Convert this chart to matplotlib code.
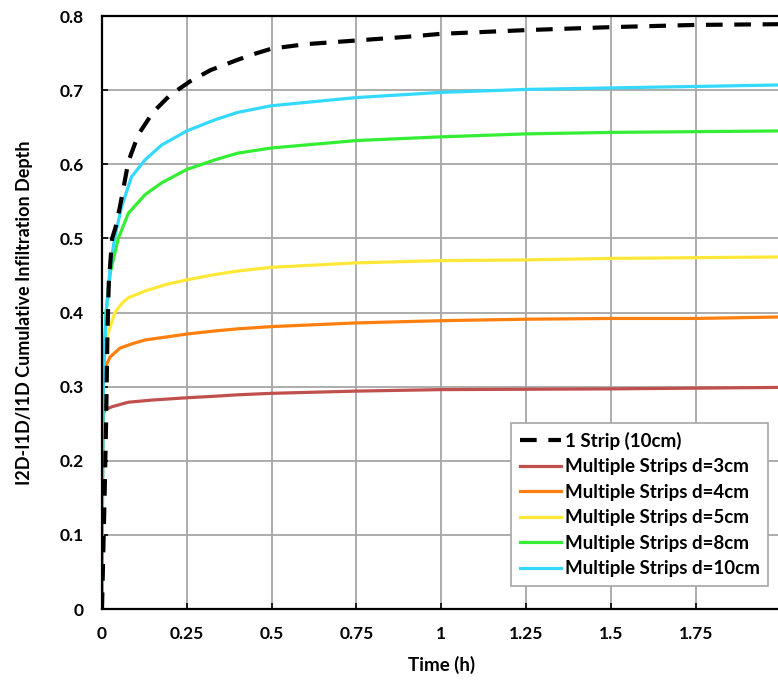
import matplotlib.pyplot as plt

plt.rcParams['font.family'] = ['Lato', 'DejaVu Sans']
plt.rcParams['font.weight'] = 'bold'

# time (h) and relative extra infiltration depth
t_one = [0, 0.004, 0.008, 0.012, 0.016, 0.02, 0.03, 0.04, 0.053, 0.078, 0.107, 0.15, 0.2, 0.26, 0.32, 0.4, 0.45, 0.5, 0.6, 0.75, 0.9, 1.0, 1.25, 1.5, 1.75, 2.0]
y_one = [0, 0.08, 0.16, 0.25, 0.37, 0.44, 0.5, 0.515, 0.543, 0.604, 0.64, 0.67, 0.693, 0.712, 0.727, 0.741, 0.749, 0.756, 0.762, 0.767, 0.772, 0.776, 0.781, 0.785, 0.788, 0.789]

t_d3 = [0, 0.002, 0.005, 0.01, 0.03, 0.078, 0.15, 0.25, 0.33, 0.4, 0.5, 0.75, 1.0, 1.5, 2.0]
y_d3 = [0, 0.24, 0.265, 0.269, 0.273, 0.279, 0.282, 0.285, 0.287, 0.289, 0.291, 0.294, 0.296, 0.297, 0.299]

t_d4 = [0, 0.002, 0.005, 0.01, 0.024, 0.053, 0.09, 0.127, 0.19, 0.25, 0.33, 0.4, 0.5, 0.75, 1.0, 1.25, 1.5, 1.75, 2.0]
y_d4 = [0, 0.28, 0.318, 0.327, 0.34, 0.352, 0.358, 0.363, 0.367, 0.371, 0.375, 0.378, 0.381, 0.386, 0.389, 0.391, 0.392, 0.392, 0.394]

t_d5 = [0, 0.002, 0.005, 0.01, 0.018, 0.038, 0.06, 0.078, 0.127, 0.19, 0.25, 0.33, 0.4, 0.5, 0.75, 1.0, 1.25, 1.5, 1.75, 2.0]
y_d5 = [0, 0.26, 0.33, 0.355, 0.372, 0.4, 0.413, 0.42, 0.429, 0.438, 0.444, 0.451, 0.456, 0.461, 0.467, 0.47, 0.471, 0.473, 0.474, 0.475]

t_d8 = [0, 0.002, 0.004, 0.012, 0.025, 0.048, 0.078, 0.127, 0.176, 0.25, 0.333, 0.4, 0.5, 0.75, 1.0, 1.25, 1.5, 1.75, 2.0]
y_d8 = [0, 0.2, 0.3, 0.4, 0.455, 0.5, 0.534, 0.559, 0.575, 0.593, 0.606, 0.615, 0.622, 0.632, 0.637, 0.641, 0.643, 0.644, 0.645]

t_d10 = [0, 0.002, 0.004, 0.012, 0.024, 0.037, 0.058, 0.087, 0.127, 0.176, 0.25, 0.333, 0.4, 0.5, 0.75, 1.0, 1.25, 1.5, 1.75, 2.0]
y_d10 = [0, 0.2, 0.3, 0.4, 0.46, 0.5, 0.543, 0.583, 0.606, 0.626, 0.645, 0.66, 0.67, 0.679, 0.69, 0.697, 0.701, 0.703, 0.705, 0.707]

labels = ['1 Strip (10cm)', 'Multiple Strips d=3cm', 'Multiple Strips d=4cm',
          'Multiple Strips d=5cm', 'Multiple Strips d=8cm', 'Multiple Strips d=10cm']
colors = ['black', '#C0504D', '#FF7F0E', '#FFE838', '#33EE33', '#33D9FF']

fig = plt.figure(figsize=(7.78, 6.82), dpi=100)
ax = fig.add_axes([0.1311, 0.107, 0.872, 0.8695])

series = [(t_d3, y_d3), (t_d4, y_d4), (t_d5, y_d5), (t_d8, y_d8), (t_d10, y_d10)]
ax.plot(t_one, y_one, color=colors[0], lw=3, dashes=(4, 2.8), label=labels[0], zorder=5)
for (t, y), c, lab in zip(series, colors[1:], labels[1:]):
    ax.plot(t, y, color=c, lw=2.3, label=lab)

ax.set_xlim(0, 2)
ax.set_ylim(0, 0.8)
ax.set_xticks([0, 0.25, 0.5, 0.75, 1, 1.25, 1.5, 1.75])
ax.set_xticklabels(['0', '0.25', '0.5', '0.75', '1', '1.25', '1.5', '1.75'])
ax.set_yticks([0, 0.1, 0.2, 0.3, 0.4, 0.5, 0.6, 0.7, 0.8])
ax.set_yticklabels(['0', '0.1', '0.2', '0.3', '0.4', '0.5', '0.6', '0.7', '0.8'])
ax.grid(True, color='#A6A6A6', lw=1.3)
ax.set_axisbelow(True)
ax.tick_params(direction='in', length=4, width=1.2, labelsize=12.5)
ax.tick_params(axis='y', pad=13)
ax.tick_params(axis='x', pad=12)
for s in ['left', 'bottom', 'top']:
    ax.spines[s].set_linewidth(1.6)
ax.spines['right'].set_visible(False)

ax.set_xlabel('Time (h)', fontsize=13.5, fontweight='bold', labelpad=10)
ax.set_ylabel('I2D-I1D/I1D Cumulative Infiltration Depth', fontsize=13, fontweight='bold', labelpad=19)

leg = ax.legend(loc='lower right', bbox_to_anchor=(0.99, 0.03), fontsize=13.5, frameon=True,
                fancybox=False, edgecolor='#A6A6A6', handlelength=2.2, handletextpad=0.2,
                borderpad=0.45, labelspacing=0.45, borderaxespad=0.3, framealpha=1)
leg.get_frame().set_linewidth(1.2)

fig.savefig('out.png', dpi=100)
